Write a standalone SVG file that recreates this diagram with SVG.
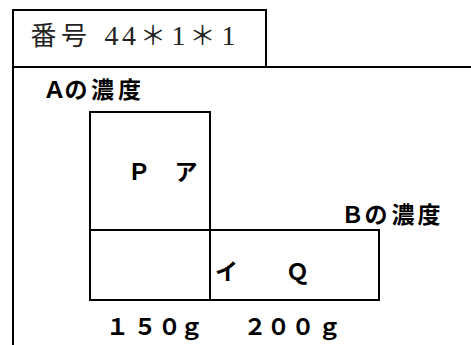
<svg xmlns="http://www.w3.org/2000/svg" width="471" height="345" viewBox="0 0 471 345">
<style>
.ln{stroke:#000;stroke-width:2;fill:none}
.sans{font-family:"Noto Sans CJK JP","Liberation Sans",sans-serif;font-size:23px;font-weight:bold;fill:#000;text-anchor:middle}
.title{font-family:"Liberation Serif","Noto Sans CJK JP",serif;font-size:26px;fill:#222;text-anchor:middle}
.dg{font-size:28px}
</style>
<rect width="471" height="345" fill="#fff"/>
<g id="frame">
<line class="ln" x1="13" y1="10" x2="13" y2="345"/>
<line class="ln" x1="13" y1="67" x2="471" y2="67"/>
</g>
<g id="title">
<rect class="ln" x="13" y="10" width="253" height="57"/>
<text class="title" y="45"><tspan x="43.5 74">番号</tspan><tspan class="dg" x="111.5 129">44</tspan><tspan x="153">＊</tspan><tspan class="dg" x="178.5">1</tspan><tspan x="202.5">＊</tspan><tspan class="dg" x="228.5">1</tspan></text>
</g>
<g id="boxA">
<rect class="ln" x="90" y="112" width="120" height="118"/>
<text class="sans" y="180" x="139 186">Ｐア</text>
</g>
<g id="boxB">
<rect class="ln" x="90" y="230" width="289" height="70"/>
<line class="ln" x1="210" y1="230" x2="210" y2="300"/>
<text class="sans" y="280" x="226.5 297.5">イＱ</text>
</g>
<g id="labels">
<text class="sans" y="98" x="54.5 76 102.5 129.5">Ａの濃度</text>
<text class="sans" y="223" x="352.5 376 403 429">Ｂの濃度</text>
<text class="sans" y="335" x="117.5 145 169.5 191.5 255 278.5 303 329.5">１５０ｇ２００ｇ</text>
</g>
</svg>
